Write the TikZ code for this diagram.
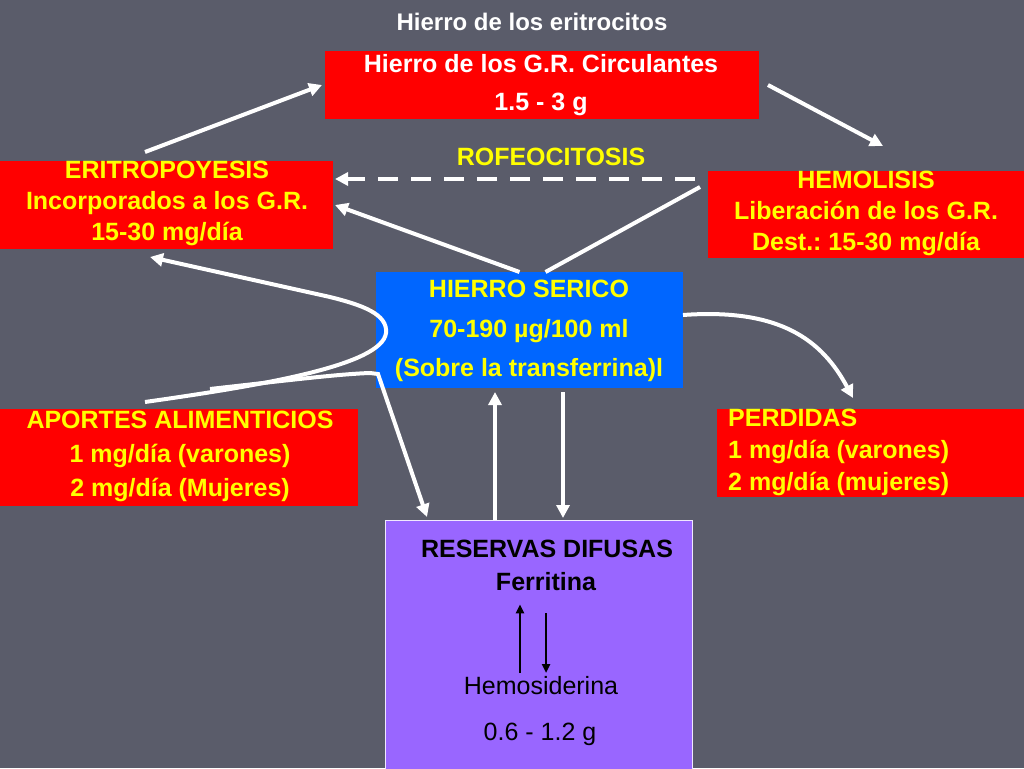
\documentclass[tikz,border=0pt]{standalone}
\usepackage{fontspec}
\setmainfont{Liberation Sans}
\usetikzlibrary{arrows.meta}
\definecolor{bg}{RGB}{90,92,106}
\definecolor{boxred}{RGB}{255,0,0}
\definecolor{boxblue}{RGB}{0,102,255}
\definecolor{boxpurple}{RGB}{153,102,255}
\definecolor{txtyellow}{RGB}{255,255,0}
\tikzset{
  boxbase/.style={inner sep=0pt, outer sep=0pt, rectangle},
  redbox/.style={boxbase, fill=boxred},
  bluebox/.style={boxbase, fill=boxblue},
  purplebox/.style={boxbase, fill=boxpurple, draw=white!85!boxpurple, line width=1pt},
  ytext/.style={inner sep=0pt, text=txtyellow, align=center, font=\fontsize{25}{31}\selectfont\bfseries},
  wtext/.style={inner sep=0pt, text=white, align=center, font=\fontsize{25}{38}\selectfont\bfseries},
  ktext/.style={inner sep=0pt, text=black, align=center, font=\fontsize{25}{30}\selectfont},
  arr/.style={draw=white, line width=4pt, -{Triangle[length=13pt,width=13pt]}},
  plainline/.style={draw=white, line width=4pt},
  smallarr/.style={draw=black, line width=2.4pt, -{Triangle[length=9pt,width=8pt]}}
}
\frenchspacing
\begin{document}
\begin{tikzpicture}[x=1pt,y=-1pt]
\useasboundingbox (0,0) rectangle (1024,768);
\fill[bg] (0,0) rectangle (1024,768);

% boxes
\node[redbox, minimum width=434pt, minimum height=68pt] (gr) at (542,85) {};
\node[redbox, minimum width=333pt, minimum height=88pt] (eri) at (166.5,205) {};
\node[redbox, minimum width=316pt, minimum height=87pt] (hem) at (866,214.5) {};
\node[bluebox, minimum width=307pt, minimum height=116pt] (ser) at (529.5,330) {};
\node[redbox, minimum width=358pt, minimum height=97pt] (apo) at (179,457.5) {};
\node[redbox, minimum width=307pt, minimum height=88pt] (per) at (870.5,453) {};
\node[purplebox, minimum width=307pt, minimum height=250pt] (res) at (538.5,645) {};

% texts
\node[wtext, font=\fontsize{24}{30}\selectfont\bfseries] (title) at (532,22) {Hierro de los eritrocitos};
\node[wtext] (grt) at (541,85) {Hierro de los G.R. Circulantes\\1.5 - 3 g};
\node[ytext] (erit) at (167,203) {ERITROPOYESIS\\Incorporados a los G.R.\\15-30 mg/día};
\node[ytext] (hemt) at (866,213) {HEMOLISIS\\Liberación de los G.R.\\Dest.: 15-30 mg/día};
\node[ytext, font=\fontsize{25}{39.5}\selectfont\bfseries] (sert) at (529,331) {HIERRO SERICO\\70-190 \textmu g/100 ml\\(Sobre la transferrina)l};
\node[ytext, font=\fontsize{25}{34}\selectfont\bfseries] (apot) at (180,456) {APORTES ALIMENTICIOS\\1 mg/día (varones)\\2 mg/día (Mujeres)};
\node[ytext, align=left, anchor=west, font=\fontsize{25}{32}\selectfont\bfseries] (pert) at (728,452) {PERDIDAS\\1 mg/día (varones)\\2 mg/día (mujeres)};
\node[ytext] (rofe) at (551,157) {ROFEOCITOSIS};
\node[ktext, font=\fontsize{25}{30}\selectfont\bfseries] (rest) at (547,549) {RESERVAS DIFUSAS};
\node[ktext, font=\fontsize{25}{30}\selectfont\bfseries] (fert) at (546,582) {Ferritina};
\node[ktext] (hemo) at (541,686) {Hemosiderina};
\node[ktext] (dose) at (540,734) {0.6 - 1.2 g};

% connectors
\draw[arr] ([xshift=145pt,yshift=9pt]eri.north west) -- ([xshift=-3pt]gr.west);
\draw[arr] ([xshift=9pt]gr.east) -- ([xshift=17pt,yshift=25pt]hem.north);
\draw[arr, dash pattern=on 20pt off 13pt] ([xshift=-13pt,yshift=-8pt]hem.north west) -- ([xshift=2pt,yshift=-18pt]eri.north east);
\draw[arr] ([xshift=-10pt]ser.north) -- ([xshift=2pt]eri.east);
\draw[plainline] ([xshift=16pt]ser.north) -- ([xshift=-8pt,yshift=-16pt]hem.north west);
\draw[arr] ([xshift=145pt,yshift=7pt]apo.north west)
  .. controls (265,385) and (382,365) .. (386,333)
  .. controls (388,314) and (362,305) .. (330,297) -- ([xshift=150pt,yshift=-8pt]eri.south west);
\draw[arr] ([xshift=210pt,yshift=20pt]apo.north west)
  .. controls (290,380) and (340,374) .. (370,373) -- (378,374) -- ([xshift=42pt,yshift=3pt]res.north west);
\draw[arr] ([yshift=15pt]ser.east) .. controls (780,308) and (822,340) .. ([xshift=136pt,yshift=11pt]per.north west);
\draw[arr] ([xshift=-43.5pt]res.north) -- ([xshift=-34.5pt,yshift=-4pt]ser.south);
\draw[arr] ([xshift=33.5pt,yshift=-4pt]ser.south) -- ([xshift=24.5pt,yshift=2pt]res.north);

% inner arrows
\coordinate (upA) at (520,673);
\coordinate (downB) at (546,673);
\draw[smallarr] (upA) -- ([xshift=-26pt,yshift=-13pt]fert.south);
\draw[smallarr] ([xshift=0pt,yshift=-22pt]fert.south) -- (downB);
\end{tikzpicture}
\end{document}
